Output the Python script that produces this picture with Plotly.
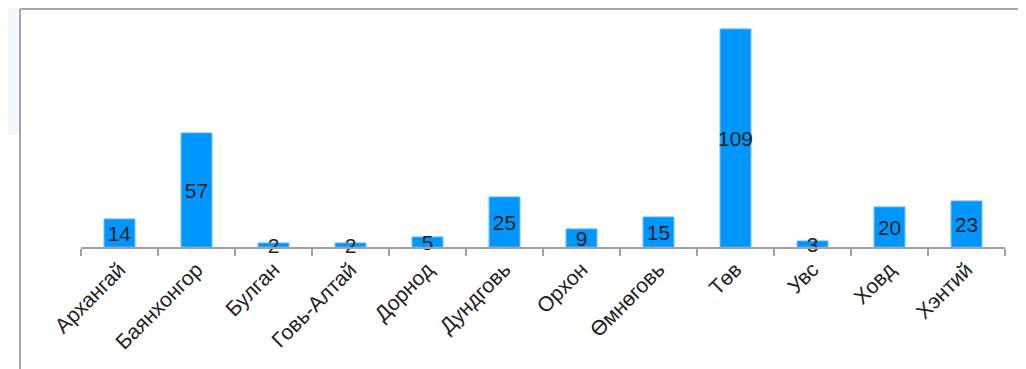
import plotly.graph_objects as go

# Аймгууд ба утгууд
aimag = ["Архангай", "Баянхонгор", "Булган", "Говь-Алтай", "Дорнод", "Дундговь",
         "Орхон", "Өмнөговь", "Төв", "Увс", "Ховд", "Хэнтий"]
too = [14, 57, 2, 2, 5, 25, 9, 15, 109, 3, 20, 23]

# хуудасны body 8px margin-тай тул зургийг 8px-ээр жижгэрүүлнэ
W, H = 1018, 361
L, R, T, B = 73, 21, 9, 122
ymax = 115

fig = go.Figure()
fig.add_trace(go.Bar(
    x=aimag,
    y=too,
    text=[str(v) for v in too],
    textposition="inside",
    insidetextanchor="middle",
    textangle=0,
    constraintext="none",
    cliponaxis=False,
    insidetextfont=dict(family="Liberation Sans, Arial", size=21, color="#222222"),
    marker=dict(color="#0096ff", line=dict(color="#4db5ff", width=1)),
    width=0.4,
))

# хүрээ (зүүн ба дээд шугам), дэлгэцийн пикселээр
px_x = lambda p: (p - 8 - L) / (W - L - R)
px_y = lambda p: 1 - (p - 8 - T) / (H - T - B)
bx, by = px_x(20), px_y(9)
fig.add_shape(type="path", xref="paper", yref="paper", layer="below",
              path=f"M {px_x(8)} {px_y(8)} L {px_x(330)} {px_y(8)} L {px_x(330)} {by} "
                   f"L {bx} {by} L {bx} {px_y(135)} L {px_x(8)} {px_y(135)} Z",
              fillcolor="#f3f8fd", line=dict(width=0))
fig.add_shape(type="line", xref="paper", yref="paper", x0=bx, x1=bx, y0=px_y(H + 20), y1=by,
              line=dict(color="#a6a6a6", width=2))
fig.add_shape(type="line", xref="paper", yref="paper", x0=bx, x1=px_x(W + 20), y0=by, y1=by,
              line=dict(color="#a6a6a6", width=2))

fig.update_layout(
    width=W, height=H,
    margin=dict(l=L, r=R, t=T, b=B),
    paper_bgcolor="white",
    plot_bgcolor="white",
    showlegend=False,
    font=dict(family="Liberation Sans, Arial", size=21, color="#222222"),
)
fig.update_xaxes(
    showline=True, linecolor="#a0a0a0", linewidth=2,
    ticks="outside", tickson="boundaries", ticklen=7, tickcolor="#a0a0a0", tickwidth=2,
    tickangle=-45, showgrid=False,
    tickfont=dict(size=21, color="#222222"),
)
fig.update_yaxes(range=[0, ymax], visible=False, showgrid=False, zeroline=False)

fig.write_html("out.html")
